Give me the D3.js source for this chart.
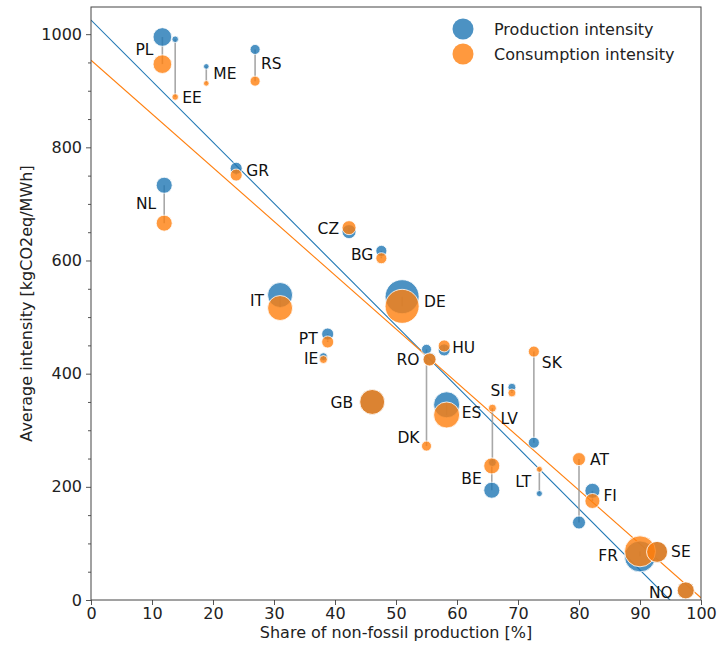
<!DOCTYPE html>
<html>
<head>
<meta charset="utf-8">
<script src="https://cdn.jsdelivr.net/npm/d3@7/dist/d3.min.js"></script>
<style>
  html, body { margin: 0; padding: 0; background: #fff; }
  svg { display: block; font-family: "DejaVu Sans", sans-serif; }
</style>
</head>
<body>
<svg id="chart" width="725" height="651"></svg>
<script>
// ---------------- DATA ----------------
const countries   = ["PL","EE","ME","RS","GR","NL","CZ","BG","IT","DE","PT","IE","RO","DK","HU","GB","ES","SI","LV","BE","SK","LT","AT","FI","FR","SE","NO"];
const nonFossilShare = [11.7,13.8,18.9,26.9,23.8,12.0,42.3,47.6,31.0,51.0,38.8,38.1,55.5,55.0,57.9,46.1,58.3,69.0,65.8,65.7,72.6,73.5,80.0,82.2,90.0,92.8,97.5];
const productionIntensity  = [995,991,943,973,763,733,651,617,539,536,470,430,426,443,442,350,345,376,243,194,278,188,137,193,77,85,17];
const consumptionIntensity = [947,889,913,917,751,666,658,604,516,519,456,425,425,272,449,350,327,366,339,237,439,231,249,175,86,85,17];
const productionTWh = [180,22,16,52,75,133,102,63,324,600,75,33,88,52,75,324,351,33,33,133,63,19,88,117,499,229,150];

// linear trend lines: [intercept, slope]
const productionTrend  = [1025, -10.8];
const consumptionTrend = [954, -9.5];

const xTicks = [0,10,20,30,40,50,60,70,80,90,100];
const yTicks = [0,200,400,600,800,1000];
const seriesNames = ["Production intensity","Consumption intensity"];

// ---------------- LAYOUT ----------------
const svg = d3.select("#chart");
const M = {left: 91, right: 24, top: 7, bottom: 51};
const W = 725, H = 651;
const x = d3.scaleLinear().domain([0,100]).range([M.left, W - M.right]);
const y = d3.scaleLinear().domain([0,1048]).range([H - M.bottom, M.top]);
const r = d3.scaleSqrt().domain([0,600]).range([0,17]);

const blue = "#1f77b4", orange = "#ff7f0e";

// label offsets (pixels) relative to marker x / mid y
const labelPos = {
  PL:[-9,-1,"end"], EE:[7,0,"start","c"], ME:[7,-1,"start"], RS:[6,-2,"start"], GR:[10,-1,"start"],
  NL:[-8,-1,"end"], CZ:[-10,-1,"end"], BG:[-8,0,"end"], IT:[-16,-1,"end"], DE:[22,0,"start"],
  PT:[-10,0,"end"], IE:[-5,0,"end"], RO:[-10,0,"end","c"], DK:[-7,-9,"end","c"], HU:[8,0,"start"],
  GB:[-19,0,"end"], ES:[15,3,"start"], SI:[-7,0,"end"], LV:[8,10,"start","c"], BE:[-10,0,"end"],
  SK:[8,11,"start","c"], LT:[-8,0,"end"], AT:[11,0,"start","c"], FI:[11,0,"start"], FR:[-22,2,"end"],
  SE:[14,0,"start"], NO:[-13,2,"end"]
};

const data = countries.map((c,i)=>({c, x:nonFossilShare[i], p:productionIntensity[i], q:consumptionIntensity[i], s:productionTWh[i]}));

const plot = svg.append("g");
svg.append("defs").append("clipPath").attr("id","clip")
  .append("rect").attr("x",M.left).attr("y",M.top).attr("width",W-M.left-M.right).attr("height",H-M.top-M.bottom);

// trend lines
[[productionTrend, blue],[consumptionTrend, orange]].forEach(([t,col])=>{
  plot.append("line").attr("clip-path","url(#clip)")
    .attr("x1",x(0)).attr("y1",y(t[0]))
    .attr("x2",x(100)).attr("y2",y(t[0]+t[1]*100))
    .attr("stroke",col).attr("stroke-width",1.1);
});

// connecting lines
plot.selectAll(".conn").data(data).join("line")
  .attr("x1",d=>x(d.x)).attr("x2",d=>x(d.x))
  .attr("y1",d=>y(d.p)).attr("y2",d=>y(d.q))
  .attr("stroke","#999").attr("stroke-width",1.6).attr("opacity",0.85);

// production points
plot.selectAll(".pp").data(data).join("circle")
  .attr("cx",d=>x(d.x)).attr("cy",d=>y(d.p)).attr("r",d=>r(d.s))
  .attr("fill",blue).attr("fill-opacity",0.8).attr("stroke","#fff").attr("stroke-width",0.8);
// consumption points
plot.selectAll(".cp").data(data).join("circle")
  .attr("cx",d=>x(d.x)).attr("cy",d=>y(d.q)).attr("r",d=>r(d.s))
  .attr("fill",orange).attr("fill-opacity",0.8).attr("stroke","#fff").attr("stroke-width",0.8);

// labels
plot.selectAll(".lbl").data(data).join("text")
  .attr("x",d=>x(d.x)+labelPos[d.c][0])
  .attr("y",d=>{
    const lp = labelPos[d.c];
    const base = lp[3]==="c" ? (lp[1]<0 && d.c==="DK" ? y(d.q) : (d.c==="LV"||d.c==="SK"||d.c==="AT"||d.c==="RO" ? y(d.q) : y(d.q))) : (y(d.p)+y(d.q))/2;
    return base + lp[1];
  })
  .attr("dy","0.36em")
  .attr("text-anchor",d=>labelPos[d.c][2])
  .attr("font-size",15.5).attr("fill","#111")
  .text(d=>d.c);

// axes
const axisColor = "#555";
const gx = svg.append("g").attr("transform",`translate(0,${H-M.bottom})`)
  .call(d3.axisBottom(x).tickValues(xTicks).tickSize(5).tickPadding(3).tickFormat(d3.format("d")));
const gy = svg.append("g").attr("transform",`translate(${M.left},0)`)
  .call(d3.axisLeft(y).tickValues(yTicks).tickSize(5).tickPadding(4).tickFormat(d3.format("d")));
const gym = svg.append("g").attr("transform",`translate(${M.left},0)`)
  .call(d3.axisLeft(y).tickValues(d3.range(0,1050,50).filter(v=>v%200!==0)).tickSize(3).tickFormat(""));
[gx,gy,gym].forEach(g=>{
  g.select(".domain").remove();
  g.selectAll(".tick line").attr("stroke",axisColor);
  g.selectAll(".tick text").attr("font-size",16).attr("fill","#222").attr("font-family","DejaVu Sans, sans-serif");
});

// frame
svg.append("rect").attr("x",M.left).attr("y",M.top)
  .attr("width",W-M.left-M.right).attr("height",H-M.top-M.bottom)
  .attr("fill","none").attr("stroke","#444").attr("stroke-width",1);

// axis titles
svg.append("text").attr("x",(M.left+W-M.right)/2).attr("y",H-13)
  .attr("text-anchor","middle").attr("font-size",16).attr("fill","#222")
  .text("Share of non-fossil production [%]");
svg.append("text").attr("transform",`translate(32,${(M.top+H-M.bottom)/2}) rotate(-90)`)
  .attr("text-anchor","middle").attr("font-size",16).attr("fill","#222")
  .text("Average intensity [kgCO2eq/MWh]");

// legend
const lg = svg.append("g");
seriesNames.forEach((n,i)=>{
  lg.append("circle").attr("cx",463).attr("cy",29+i*25).attr("r",10.5)
    .attr("fill",i===0?blue:orange).attr("fill-opacity",0.8);
  lg.append("text").attr("x",494).attr("y",29+i*25).attr("dy","0.36em")
    .attr("font-size",16).attr("fill","#222").text(n);
});
</script>
</body>
</html>
